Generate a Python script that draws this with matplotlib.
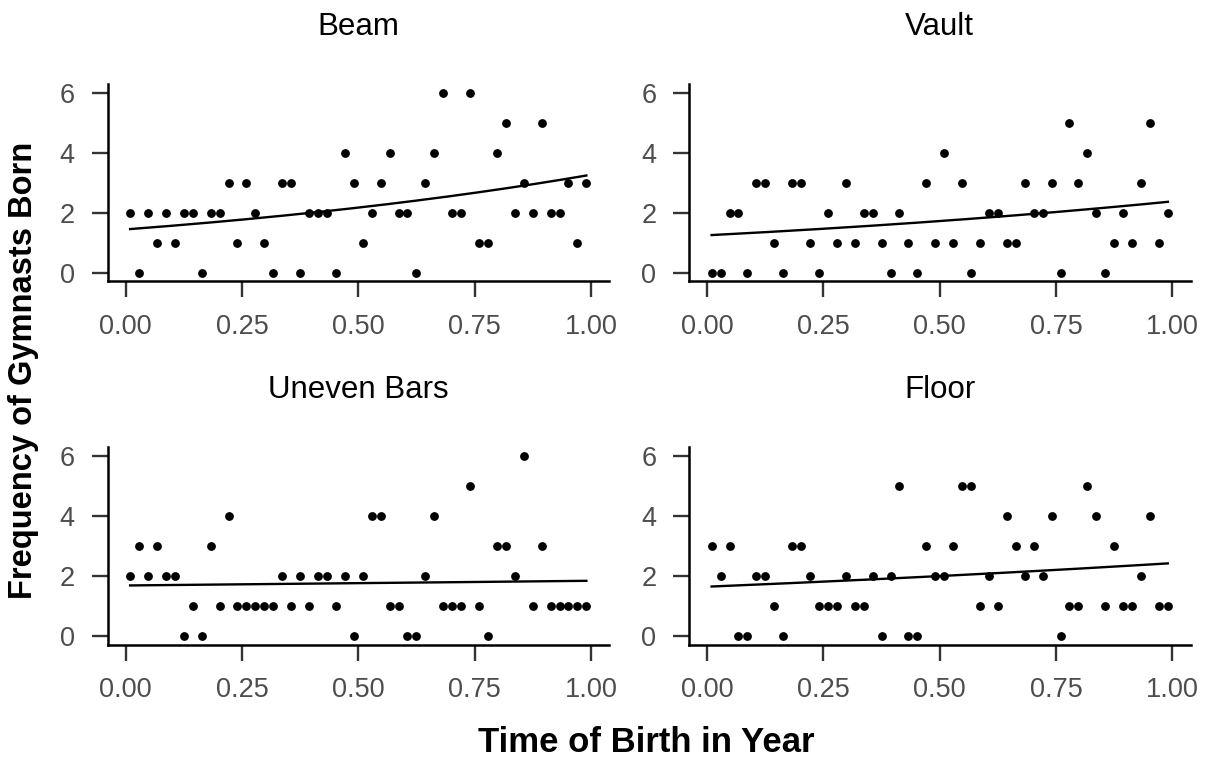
import numpy as np
import matplotlib
matplotlib.use("Agg")
import matplotlib.pyplot as plt

plt.rcParams['font.family'] = ['Liberation Sans', 'DejaVu Sans']

panels = ["Beam", "Vault", "Uneven Bars", "Floor"]
n_weeks = 52
beam = [2,0,2,1,2,1,2,2,0,2,2,3,1,3,2,1,0,3,3,0,2,2,2,0,4,3,1,2,3,4,2,2,0,3,4,6,2,2,6,1,1,4,5,2,3,2,5,2,2,3,1,3]
vault = [0,0,2,2,0,3,3,1,0,3,3,1,0,2,1,3,1,2,2,1,0,2,1,0,3,1,4,1,3,0,1,2,2,1,1,3,2,2,3,0,5,3,4,2,0,1,2,1,3,5,1,2]
uneven = [2,3,2,3,2,2,0,1,0,3,1,4,1,1,1,1,1,2,1,2,1,2,2,1,2,0,2,4,4,1,1,0,0,2,4,1,1,1,5,1,0,3,3,2,6,1,3,1,1,1,1,1]
floor_ = [3,2,3,0,0,2,2,1,0,3,3,2,1,1,1,2,1,1,2,0,2,5,0,0,3,2,2,3,5,5,1,2,1,4,3,2,3,2,4,0,1,1,5,4,1,3,1,1,2,4,1,1]
series = [beam, vault, uneven, floor_]
xticks = [0.0, 0.25, 0.5, 0.75, 1.0]
xticklabels = ["0.00", "0.25", "0.50", "0.75", "1.00"]
yticks = [0, 2, 4, 6]

x = (np.arange(n_weeks) + 0.5) / n_weeks


def poisson_fit(xv, yv):
    X = np.column_stack([np.ones_like(xv), xv])
    y = np.asarray(yv, float)
    beta = np.array([np.log(y.mean() + 1e-9), 0.0])
    for _ in range(50):
        mu = np.exp(X @ beta)
        grad = X.T @ (y - mu)
        H = X.T @ (X * mu[:, None])
        step = np.linalg.solve(H, grad)
        beta = beta + step
        if np.max(np.abs(step)) < 1e-10:
            break
    return beta


W, H = 1211, 762
fig = plt.figure(figsize=(W / 100, H / 100), dpi=100)

lefts = [107.5, 689.0]
tops = [84.0, 447.0]
aw = 501.5
ah = 197.5

tick_fs = 19.5
title_fs = 22.5

for k, (name, vals) in enumerate(zip(panels, series)):
    r, c = divmod(k, 2)
    l = lefts[c]
    t = tops[r]
    ax = fig.add_axes([l / W, 1 - (t + ah) / H, aw / W, ah / H])
    ax.scatter(x, vals, s=40, color='black', linewidths=0, zorder=3)
    b = poisson_fit(x, vals)
    xs = np.linspace(x.min(), x.max(), 200)
    ax.plot(xs, np.exp(b[0] + b[1] * xs), color='black', lw=1.7, zorder=2)
    ax.set_xlim(-0.039, 1.039)
    ax.set_ylim(-0.3, 6.3)
    ax.set_xticks(xticks)
    ax.set_xticklabels(xticklabels)
    ax.set_yticks(yticks)
    for s in ['top', 'right']:
        ax.spines[s].set_visible(False)
    for s in ['left', 'bottom']:
        ax.spines[s].set_linewidth(1.8)
        ax.spines[s].set_color('black')
    ax.tick_params(axis='both', length=11.5, width=1.7, color='#333333',
                   labelsize=tick_fs, labelcolor='#4D4D4D', pad=12)
    fig.text((l + aw / 2) / W, 1 - (t - 57) / H, name, ha='center', va='center',
             fontsize=title_fs, color='black')

fig.text(646 / W, 1 - 742 / H, "Time of Birth in Year", ha='center', va='center',
         fontsize=25, fontweight='bold')
fig.text(24 / W, 1 - 370 / H, "Frequency of Gymnasts Born", ha='center', va='center',
         rotation=90, fontsize=23.5, fontweight='bold')

fig.savefig("out.png", dpi=100, facecolor='white')
